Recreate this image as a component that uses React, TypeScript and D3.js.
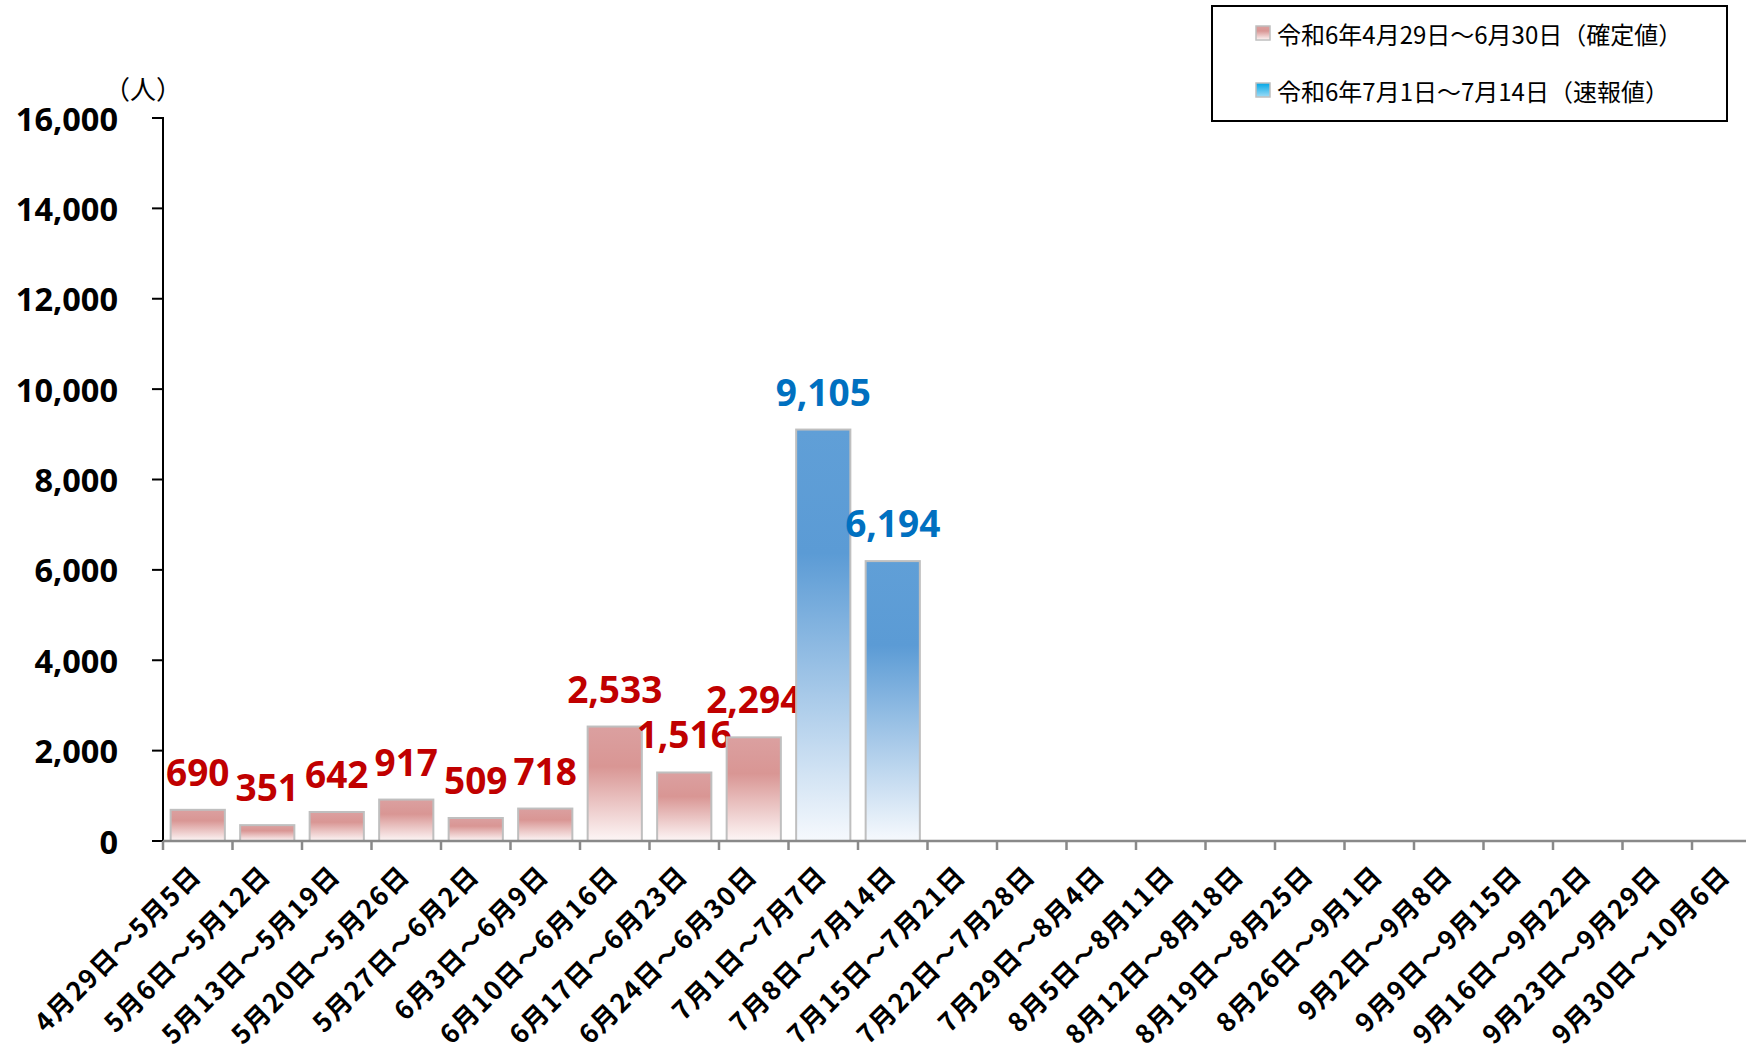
import React from "react";
import * as d3 from "d3";

const categories = [
  "4月29日～5月5日",
  "5月6日～5月12日",
  "5月13日～5月19日",
  "5月20日～5月26日",
  "5月27日～6月2日",
  "6月3日～6月9日",
  "6月10日～6月16日",
  "6月17日～6月23日",
  "6月24日～6月30日",
  "7月1日～7月7日",
  "7月8日～7月14日",
  "7月15日～7月21日",
  "7月22日～7月28日",
  "7月29日～8月4日",
  "8月5日～8月11日",
  "8月12日～8月18日",
  "8月19日～8月25日",
  "8月26日～9月1日",
  "9月2日～9月8日",
  "9月9日～9月15日",
  "9月16日～9月22日",
  "9月23日～9月29日",
  "9月30日～10月6日",
];

// 令和6年4月29日～6月30日（確定値）
const confirmedValues = [690, 351, 642, 917, 509, 718, 2533, 1516, 2294];
// 令和6年7月1日～7月14日（速報値）
const preliminaryValues = [9105, 6194];

const yTicks = [0, 2000, 4000, 6000, 8000, 10000, 12000, 14000, 16000];
const legendLabels = [
  "令和6年4月29日～6月30日（確定値）",
  "令和6年7月1日～7月14日（速報値）",
];

const width = 1746;
const height = 1049;
const left = 163;
const step = 69.5;
const bottom = 841;
const top = 118;

const x = d3
  .scaleBand()
  .domain(categories)
  .range([left, left + step * categories.length])
  .paddingInner(0.22)
  .paddingOuter(0.11);

const y = d3.scaleLinear().domain([0, 16000]).range([bottom, top]);

const fmt = d3.format(",");
const numFont = "'Open Sans', 'Noto Sans', sans-serif";
const jpFont = "'Noto Sans CJK JP', sans-serif";

const bars = [
  ...confirmedValues.map((v, i) => ({ cat: categories[i], value: v, kind: "confirmed" })),
  ...preliminaryValues.map((v, i) => ({
    cat: categories[confirmedValues.length + i],
    value: v,
    kind: "preliminary",
  })),
];

const App = () => {
  const edge = (c) => (x(c) as number) - (x.step() - x.bandwidth()) / 2;
  return (
    <svg
      width={width}
      height={height}
      style={{ position: "absolute", left: 0, top: 0, background: "#fff" }}
    >
      <defs>
        <linearGradient id="gPink" x1="0" y1="0" x2="0" y2="1">
          <stop offset="0" stopColor="#dba0a0" />
          <stop offset="0.35" stopColor="#d99694" />
          <stop offset="1" stopColor="#fdf6f6" />
        </linearGradient>
        <linearGradient id="gBlue" x1="0" y1="0" x2="0" y2="1">
          <stop offset="0" stopColor="#609fd7" />
          <stop offset="0.3" stopColor="#5b9bd5" />
          <stop offset="1" stopColor="#f6f9fd" />
        </linearGradient>
        <linearGradient id="gCyan" x1="0" y1="0" x2="0" y2="1">
          <stop offset="0" stopColor="#00a6e6" />
          <stop offset="1" stopColor="#9fdcf6" />
        </linearGradient>
      </defs>

      {/* y axis */}
      <line x1={left} x2={left} y1={top - 1} y2={bottom} stroke="#000" strokeWidth={2} />
      {yTicks.map((t) => (
        <g key={t}>
          <line x1={left - 11} x2={left} y1={y(t)} y2={y(t)} stroke="#000" strokeWidth={2} />
          <text
            x={118}
            y={y(t)}
            textAnchor="end"
            dominantBaseline="central"
            fontFamily={numFont}
            fontWeight={700}
            fontSize={32.5}
          >
            {fmt(t)}
          </text>
        </g>
      ))}
      <text x={104} y={99} fontFamily={jpFont} fontSize={26}>
        （人）
      </text>

      {/* bars */}
      {bars.map((d) => (
        <g key={d.cat}>
          <rect
            x={x(d.cat)}
            y={y(d.value)}
            width={x.bandwidth()}
            height={bottom - y(d.value)}
            fill={d.kind === "confirmed" ? "url(#gPink)" : "url(#gBlue)"}
            stroke="#bfbfbf"
            strokeWidth={2}
          />
          <text
            x={(x(d.cat) as number) + x.bandwidth() / 2}
            y={y(d.value) - 24}
            textAnchor="middle"
            fontFamily={numFont}
            fontWeight={700}
            fontSize={37}
            fill={d.kind === "confirmed" ? "#c00000" : "#0070c0"}
          >
            {fmt(d.value)}
          </text>
        </g>
      ))}

      {/* x axis */}
      <line x1={left} x2={width} y1={bottom} y2={bottom} stroke="#898989" strokeWidth={2.5} />
      {categories.map((c) => (
        <line key={c} x1={edge(c)} x2={edge(c)} y1={bottom} y2={bottom + 9} stroke="#898989" strokeWidth={2.5} />
      ))}
      {categories.map((c) => (
        <text
          key={c}
          transform={`translate(${(x(c) as number) + x.bandwidth() / 2 - 3},${869}) rotate(-45)`}
          textAnchor="end"
          dominantBaseline="central"
          fontFamily={jpFont}
          fontWeight={700}
          fontSize={26}
          letterSpacing={1.5}
        >
          {c}
        </text>
      ))}

      {/* legend */}
      <rect x={1212} y={6} width={515} height={115} fill="#fff" stroke="#000" strokeWidth={2} />
      {legendLabels.map((l, i) => (
        <g key={l} transform={`translate(0,${33 + i * 57})`}>
          <rect
            x={1256}
            y={-7}
            width={14}
            height={14}
            fill={i === 0 ? "url(#gPink)" : "url(#gCyan)"}
            stroke="#bfbfbf"
            strokeWidth={1.5}
          />
          <text x={1277} y={0} dominantBaseline="central" fontFamily={jpFont} fontSize={24}>
            {l}
          </text>
        </g>
      ))}
    </svg>
  );
};

export default App;
